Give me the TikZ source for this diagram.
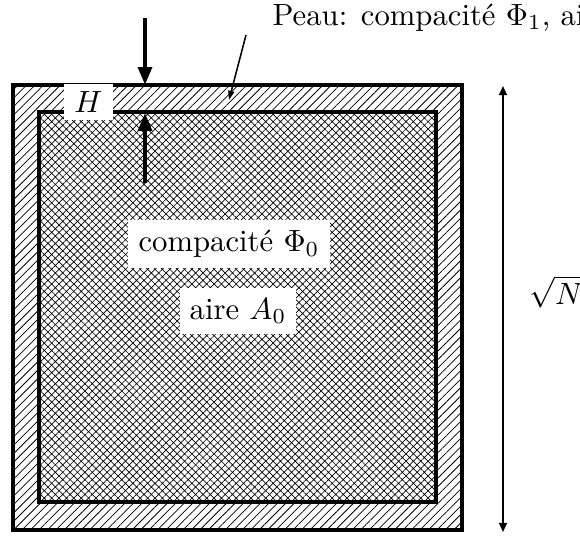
\documentclass[tikz,border=0pt]{standalone}
\usetikzlibrary{patterns.meta,arrows.meta}
\begin{document}
\begin{tikzpicture}[x=0.3257pt,y=-0.3257pt,
  lbl/.style={fill=white,inner sep=3.3pt},
  wall/.style={line width=1pt},
  bigarrow/.style={line width=1.3pt,-{Triangle[length=5.8pt,width=4.4pt]}},
  dimarrow/.style={line width=0.6pt,{Triangle[length=3pt,width=2.6pt]}-{Triangle[length=3pt,width=2.6pt]}},
  leader/.style={line width=0.5pt,-{Triangle[length=3pt,width=2pt]}}]
\useasboundingbox (0,0) rectangle (580,535);
% squares
\coordinate (O1) at (13,85);
\coordinate (O2) at (462,530);
\coordinate (I1) at (39,112);
\coordinate (I2) at (436,502);
\fill[pattern={Lines[angle=45,distance=1.95pt,line width=0.25pt]}] (O1) rectangle (O2);
\fill[white] (I1) rectangle (I2);
\fill[pattern={Hatch[angle=45,distance=1.7pt,line width=0.22pt]}] (I1) rectangle (I2);
\draw[wall] (O1) rectangle (O2);
\draw[wall] (I1) rectangle (I2);
% labels
\node[lbl] (c0) at (229,244) {compacité $\Phi_0$};
\node[lbl] (a0) at (238,311) {aire $A_0$};
\node[lbl,inner ysep=2.5pt] (h) at (88.5,102) {$H$};
\node[anchor=base west,inner sep=0pt] (peau) at (272,25) {Peau: compacité $\Phi_1$, aire $A_1$};
\node[anchor=west,inner sep=0pt] (sqn) at (529,292) {$\sqrt{N}$};
% H arrows
\coordinate (ta) at (145,18);
\coordinate (tb) at (145,85);
\coordinate (ba) at (145,183);
\coordinate (bb) at (145,113);
\draw[bigarrow] (ta) -- (tb);
\draw[bigarrow] (ba) -- (bb);
% leader
\coordinate (la) at (246,35);
\coordinate (lb) at (229,100);
\draw[leader] (la) -- (lb);
% dimension
\coordinate (da) at (503,532);
\coordinate (db) at (503,86);
\draw[dimarrow] (da) -- (db);
\end{tikzpicture}
\end{document}
